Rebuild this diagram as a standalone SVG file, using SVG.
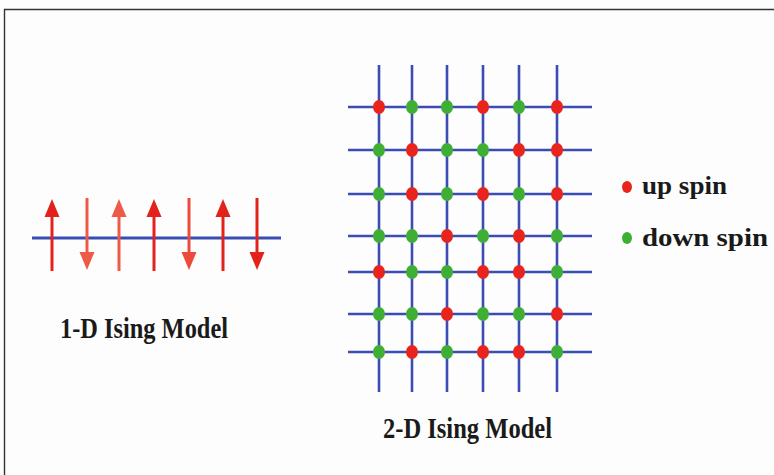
<svg xmlns="http://www.w3.org/2000/svg" width="774" height="475" viewBox="0 0 774 475">
<defs>
<style>
.lbl{font-family:"Liberation Serif","DejaVu Serif",serif;font-weight:bold;fill:#1a1a1a}
.leg{font-family:"Liberation Serif","DejaVu Serif",serif;font-weight:bold;fill:#1a1a1a}
.h{stroke:#3b4cb5;stroke-width:2.6}
.v{stroke:#3b4cb5;stroke-width:2.6}
.up{fill:#e8241c}
.dn{fill:#3fae35}
.arr{stroke-width:3}
</style>
</defs>
<rect x="0" y="0" width="774" height="475" fill="#fdfdfd"/>
<path d="M4.5,475 V9.5 H774" fill="none" stroke="#333" stroke-width="1.4"/>

<g id="chain-1d">
<line x1="32" y1="238" x2="281" y2="238" stroke="#3b4cb5" stroke-width="3"/>
<g id="spins-1d">
<g fill="#e3221b" stroke="#e3221b">
<line x1="52" y1="271" x2="52" y2="214" class="arr"/><path d="M44.5,217 L52,199 L59.5,217 z" stroke="none"/>
</g>
<g fill="#ee5a48" stroke="#ee5a48">
<line x1="87" y1="198" x2="87" y2="255" class="arr"/><path d="M79.5,252 L87,270 L94.5,252 z" stroke="none"/>
</g>
<g fill="#ee5a48" stroke="#ee5a48">
<line x1="119" y1="271" x2="119" y2="214" class="arr"/><path d="M111.5,217 L119,199 L126.5,217 z" stroke="none"/>
</g>
<g fill="#e3221b" stroke="#e3221b">
<line x1="154" y1="271" x2="154" y2="214" class="arr"/><path d="M146.5,217 L154,199 L161.5,217 z" stroke="none"/>
</g>
<g fill="#ec4a3a" stroke="#ec4a3a">
<line x1="189" y1="198" x2="189" y2="255" class="arr"/><path d="M181.5,252 L189,270 L196.5,252 z" stroke="none"/>
</g>
<g fill="#e3221b" stroke="#e3221b">
<line x1="223" y1="271" x2="223" y2="214" class="arr"/><path d="M215.5,217 L223,199 L230.5,217 z" stroke="none"/>
</g>
<g fill="#e3221b" stroke="#e3221b">
<line x1="257" y1="198" x2="257" y2="255" class="arr"/><path d="M249.5,252 L257,270 L264.5,252 z" stroke="none"/>
</g>
</g>
</g>
<text id="label-1d" class="lbl" x="60" y="338" font-size="29" textLength="168" lengthAdjust="spacingAndGlyphs">1-D Ising Model</text>

<g id="lattice-2d">
<g id="lattice-lines">
<line class="v" x1="379" y1="65" x2="379" y2="392"/>
<line class="v" x1="412" y1="65" x2="412" y2="392"/>
<line class="v" x1="447" y1="65" x2="447" y2="392"/>
<line class="v" x1="483" y1="65" x2="483" y2="392"/>
<line class="v" x1="519" y1="65" x2="519" y2="392"/>
<line class="v" x1="557" y1="65" x2="557" y2="392"/>
<line class="h" x1="348" y1="107" x2="592" y2="107"/>
<line class="h" x1="348" y1="150" x2="592" y2="150"/>
<line class="h" x1="348" y1="194" x2="592" y2="194"/>
<line class="h" x1="348" y1="236" x2="592" y2="236"/>
<line class="h" x1="348" y1="272" x2="592" y2="272"/>
<line class="h" x1="348" y1="314" x2="592" y2="314"/>
<line class="h" x1="348" y1="352" x2="592" y2="352"/>
</g>
<g id="sites">
<ellipse class="up" cx="379" cy="107" rx="6" ry="7"/><ellipse class="dn" cx="412" cy="107" rx="6" ry="7"/><ellipse class="dn" cx="447" cy="107" rx="6" ry="7"/><ellipse class="up" cx="483" cy="107" rx="6" ry="7"/><ellipse class="dn" cx="519" cy="107" rx="6" ry="7"/><ellipse class="up" cx="557" cy="107" rx="6" ry="7"/>
<ellipse class="dn" cx="379" cy="150" rx="6" ry="7"/><ellipse class="up" cx="412" cy="150" rx="6" ry="7"/><ellipse class="dn" cx="447" cy="150" rx="6" ry="7"/><ellipse class="dn" cx="483" cy="150" rx="6" ry="7"/><ellipse class="up" cx="519" cy="150" rx="6" ry="7"/><ellipse class="up" cx="557" cy="150" rx="6" ry="7"/>
<ellipse class="dn" cx="379" cy="194" rx="6" ry="7"/><ellipse class="up" cx="412" cy="194" rx="6" ry="7"/><ellipse class="dn" cx="447" cy="194" rx="6" ry="7"/><ellipse class="up" cx="483" cy="194" rx="6" ry="7"/><ellipse class="dn" cx="519" cy="194" rx="6" ry="7"/><ellipse class="up" cx="557" cy="194" rx="6" ry="7"/>
<ellipse class="dn" cx="379" cy="236" rx="6" ry="7"/><ellipse class="dn" cx="412" cy="236" rx="6" ry="7"/><ellipse class="up" cx="447" cy="236" rx="6" ry="7"/><ellipse class="dn" cx="483" cy="236" rx="6" ry="7"/><ellipse class="up" cx="519" cy="236" rx="6" ry="7"/><ellipse class="dn" cx="557" cy="236" rx="6" ry="7"/>
<ellipse class="up" cx="379" cy="272" rx="6" ry="7"/><ellipse class="dn" cx="412" cy="272" rx="6" ry="7"/><ellipse class="dn" cx="447" cy="272" rx="6" ry="7"/><ellipse class="up" cx="483" cy="272" rx="6" ry="7"/><ellipse class="up" cx="519" cy="272" rx="6" ry="7"/><ellipse class="dn" cx="557" cy="272" rx="6" ry="7"/>
<ellipse class="dn" cx="379" cy="314" rx="6" ry="7"/><ellipse class="dn" cx="412" cy="314" rx="6" ry="7"/><ellipse class="up" cx="447" cy="314" rx="6" ry="7"/><ellipse class="dn" cx="483" cy="314" rx="6" ry="7"/><ellipse class="dn" cx="519" cy="314" rx="6" ry="7"/><ellipse class="up" cx="557" cy="314" rx="6" ry="7"/>
<ellipse class="dn" cx="379" cy="352" rx="6" ry="7"/><ellipse class="up" cx="412" cy="352" rx="6" ry="7"/><ellipse class="dn" cx="447" cy="352" rx="6" ry="7"/><ellipse class="up" cx="483" cy="352" rx="6" ry="7"/><ellipse class="up" cx="519" cy="352" rx="6" ry="7"/><ellipse class="dn" cx="557" cy="352" rx="6" ry="7"/>
</g>
</g>
<text id="label-2d" class="lbl" x="383" y="438" font-size="29" textLength="169" lengthAdjust="spacingAndGlyphs">2-D Ising Model</text>

<g id="legend">
<g id="legend-up">
<ellipse class="up" cx="627" cy="187" rx="5" ry="6"/>
<text class="leg" x="642" y="194" font-size="25" textLength="85" lengthAdjust="spacingAndGlyphs">up spin</text>
</g>
<g id="legend-down">
<ellipse class="dn" cx="627" cy="238" rx="5" ry="6"/>
<text class="leg" x="642" y="246" font-size="25" textLength="126" lengthAdjust="spacingAndGlyphs">down spin</text>
</g>
</g>
</svg>
